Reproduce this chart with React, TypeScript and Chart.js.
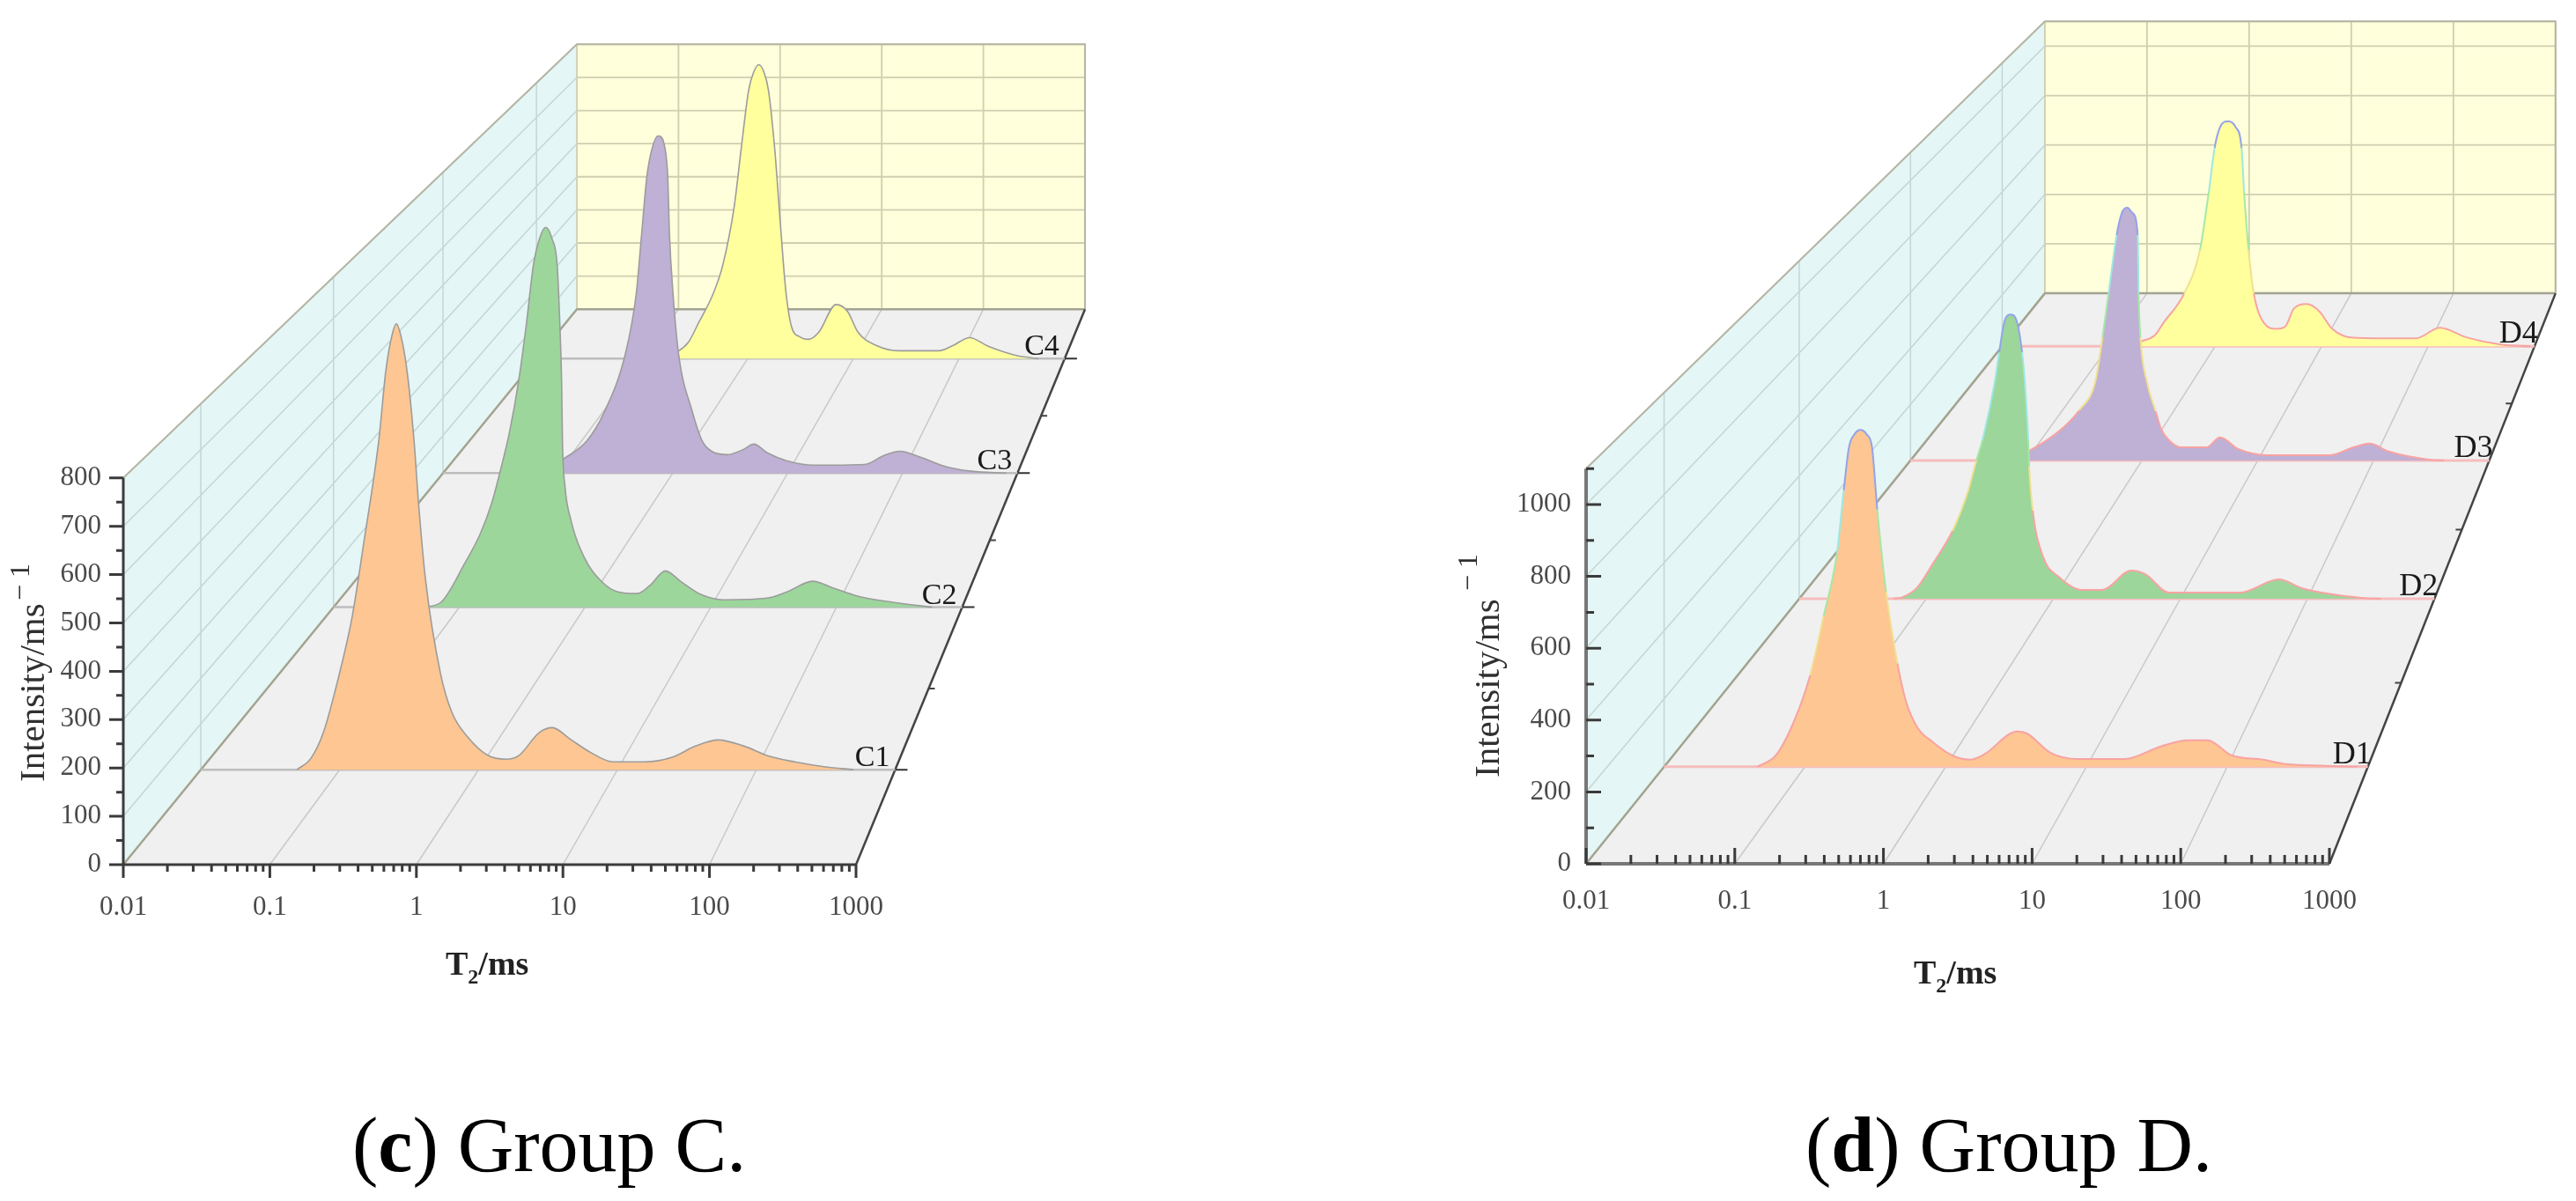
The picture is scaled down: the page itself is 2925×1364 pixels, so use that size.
import React, { useEffect, useRef } from "react";
import { Chart, registerables } from "chart.js";

Chart.register(...registerables);

// ---- Data: T2 (ms) and intensity for every sample ----
const c1T = [0.0492,0.0621,0.0762,0.0962,0.1234,0.149,0.191,0.215,0.238,0.256,0.275,0.305,0.343,0.369,0.415,0.532,0.643,0.837,1.17,1.57,1.95,2.73,3.4,4.56,6.38,9.3,15.8,24.8,36.8,53,81,119,189,315,500];
const c1I = [0,25,81,192,337,496,719,873,950,975,950,873,719,585,415,210,125,71,31,23,31,81,92,67,38,17,17,27,52,65,52,31,17,6,0];
const c2T = [0.0518,0.0715,0.11,0.148,0.182,0.214,0.251,0.296,0.342,0.389,0.435,0.487,0.546,0.601,0.631,0.652,0.662,0.695,0.766,0.99,1.37,1.83,2.61,3.27,4.37,5.74,8.32,12.6,27.9,40.4,64.6,95,147,280,578];
const c2I = [0,12,105,180,254,335,424,546,686,829,893,920,893,829,686,546,403,290,216,120,61,37,33,52,88,63,31,18,22,37,63,46,27,12,0];
const c3T = [0.0558,0.0794,0.111,0.179,0.254,0.388,0.48,0.533,0.593,0.658,0.745,0.857,0.904,0.937,1.005,1.12,1.48,1.8,2.18,3.0,4.12,5.09,6.64,9.77,16.9,46.9,69,95,143,246,396,802];
const c3I = [0,9,37,86,163,319,476,629,786,862,897,862,786,629,476,319,163,86,58,49,63,77,54,33,21,23,47,58,42,16,5,0];
const c4T = [0.138,0.223,0.275,0.34,0.47,0.581,0.745,0.867,1.02,1.135,1.27,1.43,1.57,1.8,1.98,2.18,2.31,2.59,3.13,3.79,4.69,6.87,8.81,11.1,16.6,26.8,64.6,87.7,126,189,342,562];
const c4I = [0,23,48,102,188,272,442,609,779,830,853,830,779,609,442,272,188,94,63,56,76,157,137,76,38,23,23,38,61,36,10,0];

const d1T = [0.046,0.0624,0.0832,0.109,0.136,0.169,0.189,0.206,0.225,0.248,0.275,0.3,0.327,0.378,0.455,0.526,0.634,0.81,1.11,1.48,1.87,3.23,3.78,5.58,8.73,18.7,33.8,52.9,72.6,107,180,262,501,841];
const d1I = [0,34,131,269,443,627,813,940,977,990,977,940,756,513,303,189,114,73,34,21,36,104,98,41,23,23,60,78,78,34,21,8,3,0];
const d2T = [0.0552,0.0658,0.085,0.113,0.161,0.214,0.248,0.277,0.347,0.375,0.413,0.461,0.516,0.568,0.596,0.635,0.646,0.689,0.834,1.1,1.68,2.43,4.11,5.31,8.11,29.3,59.7,91,265,378];
const d2I = [0,6,37,115,221,352,450,516,708,802,903,925,903,802,708,516,430,287,135,72,29,29,92,80,20,20,63,34,3,0];
const d3T = [0.0764,0.103,0.154,0.207,0.287,0.396,0.456,0.515,0.604,0.67,0.745,0.828,0.919,0.935,0.969,1.1,1.31,1.46,1.71,2.17,3.61,4.73,6.78,12.1,42.3,67.3,92.3,137,299,409];
const d3I = [0,31,75,116,179,283,440,597,805,884,903,884,805,597,440,283,176,113,72,47,47,82,41,19,19,47,60,31,3,0];
const d4T = [0.148,0.205,0.273,0.324,0.512,0.721,0.873,0.99,1.12,1.33,1.55,1.77,1.87,2.06,2.31,2.9,3.79,4.58,5.5,7.24,9.46,12.6,19.7,77,129,233,481,910];
const d4I = [0,20,44,89,205,375,601,771,853,874,853,771,601,375,205,89,68,78,147,164,137,68,34,31,72,34,7,0];

const xDecades = [0.01, 0.1, 1, 10, 100, 1000];
const cYMajor = [0, 100, 200, 300, 400, 500, 600, 700, 800];
const cYMinor = [50, 150, 250, 350, 450, 550, 650, 750];
const dYMajor = [0, 200, 400, 600, 800, 1000];
const dYMinor = [100, 300, 500, 700, 900, 1100];
const cGridY = [100, 200, 300, 400, 500, 600, 700, 800];
const dGridY = [200, 400, 600, 800, 1000, 1100];

const cNames = ["C1", "C2", "C3", "C4"];
const dNames = ["D1", "D2", "D3", "D4"];
const cDepths = [0.171, 0.4635, 0.705, 0.911];
const dDepths = [0.17, 0.4645, 0.707, 0.907];
const fills = ["#FDC692", "#9CD69B", "#BFB0D5", "#FFFF9E"];

type Cfg = any;

const SERIF = "'Liberation Serif', 'Times New Roman', serif";

const panelC: Cfg = {
  left: 0, width: 1400, axisLeft: 140, axisBottom: 982, pxDec: 166.4, pxUnit: 0.549,
  shiftDec: 3.095, widthShrink: 0.3065, lift: 1149, heightShrink: 0.315, wallTop: 800,
  yMajor: cYMajor, yMinor: cYMinor, gridY: cGridY, names: cNames, depths: cDepths,
  series: [[c1T, c1I], [c2T, c2I], [c3T, c3I], [c4T, c4I]],
  rainbow: false, baseColor: "#BDBDBD", baseWidth: 2.5, axisColor: "#3c3c3c", axisWidth: 3,
  xTickDir: 1, yTickDir: -1, xTick: [15, 8], yTick: [16, 8], xPad: 30, yPad: 25,
  rightTick: 1, labelDx: -6, labelSize: 34, tickFont: 31,
  title: { x: 50, y: 888, sx: 33, sy: 682 }, xt: { x: 506, y: 1107 },
};
const panelD: Cfg = {
  left: 1400, width: 1525, axisLeft: 401, axisBottom: 981, pxDec: 168.8, pxUnit: 0.408,
  shiftDec: 3.086, widthShrink: 0.313, lift: 1588, heightShrink: 0.312, wallTop: 1100,
  yMajor: dYMajor, yMinor: dYMinor, gridY: dGridY, names: dNames, depths: dDepths,
  series: [[d1T, d1I], [d2T, d2I], [d3T, d3I], [d4T, d4I]],
  rainbow: true, baseColor: "#F7BDBD", baseWidth: 3, axisColor: "#777777", axisWidth: 4,
  xTickDir: -1, yTickDir: 1, xTick: [18, 10], yTick: [17, 9], xPad: 24, yPad: 17,
  rightTick: -1, labelDx: 4, labelSize: 36, tickFont: 31,
  title: { x: 302, y: 883, sx: 277, sy: 671 }, xt: { x: 773, y: 1117 },
};

const TOP_PAD = -40;
const RIGHT_PAD = 6;

function rainbow(f: number) {
  if (f < 0.25) return "#F8A3A3";
  if (f < 0.45) return "#F0E090";
  if (f < 0.65) return "#A5E8A5";
  if (f < 0.85) return "#9CE8E2";
  return "#94A3E8";
}

function buildConfig(p: Cfg) {
  const project = (T: number, I: number, z: number) => {
    const u = Math.log10(T / 0.01);
    const dec = z * p.shiftDec + u * (1 - z * p.widthShrink);
    return { x: 0.01 * Math.pow(10, dec), y: z * p.lift + I * (1 - z * p.heightShrink) };
  };
  const GAP = { x: NaN, y: NaN };
  const seg = (list: any[][]) => list.flatMap((pts) => [...pts, GAP]);

  const poly = (data: any[], color: string) => ({
    data, showLine: true, pointRadius: 0, borderWidth: 0, borderColor: color,
    backgroundColor: color, fill: "shape", tension: 0, clip: false,
  });
  const lines = (data: any[], color: string, width: number) => ({
    data, showLine: true, pointRadius: 0, borderWidth: width, borderColor: color,
    backgroundColor: "transparent", fill: false, tension: 0, clip: false,
    borderCapStyle: "butt",
  });

  const tMin = 0.01, tMax = 1000, top = p.wallTop;
  const ds: any[] = [];
  // walls and floor
  ds.push(poly([project(tMin, 0, 1), project(tMax, 0, 1), project(tMax, top, 1), project(tMin, top, 1)], "#FFFFDC"));
  ds.push(poly([project(tMin, 0, 0), project(tMin, 0, 1), project(tMin, top, 1), project(tMin, top, 0)], "#E4F6F5"));
  ds.push(poly([project(tMin, 0, 0), project(tMax, 0, 0), project(tMax, 0, 1), project(tMin, 0, 1)], "#F0F0F0"));
  // grid on the back wall
  ds.push(lines(seg([
    ...p.gridY.map((v: number) => [project(tMin, v, 1), project(tMax, v, 1)]),
    ...xDecades.map((t) => [project(t, 0, 1), project(t, top, 1)]),
  ]), "#CFCFB0", 1.8));
  // grid on the side wall
  ds.push(lines(seg([
    ...p.gridY.map((v: number) => [project(tMin, v, 0), project(tMin, v, 1)]),
    ...p.depths.map((z: number) => [project(tMin, 0, z), project(tMin, top, z)]),
  ]), "#C4D6D6", 1.5));
  // grid on the floor
  ds.push(lines(seg(xDecades.slice(1, 5).map((t) => [project(t, 0, 0), project(t, 0, 1)])), "#C9C9C9", 1.5));
  // edges
  ds.push(lines([project(tMin, 0, 0), project(tMin, 0, 1), project(tMax, 0, 1)], "#A3A390", 2.5));
  ds.push(lines([project(tMin, top, 0), project(tMin, top, 1), project(tMax, top, 1), project(tMax, 0, 1)], "#B5B5A5", 2));
  ds.push(lines([project(tMax, 0, 0), project(tMax, 0, 1)], "#444444", 2.5));
  // ticks of the depth axis
  const tickT = (len: number) => Math.pow(10, (p.rightTick * len) / p.pxDec);
  const mids = p.depths.slice(0, 3).map((z: number, i: number) => (z + p.depths[i + 1]) / 2);
  ds.push(lines(seg(p.depths.map((z: number) => {
    const a = project(tMax, 0, z);
    return [a, { x: a.x * tickT(14), y: a.y }];
  })), "#333333", 2));
  ds.push(lines(seg(mids.map((z: number) => {
    const a = project(tMax, 0, z);
    return [a, { x: a.x * tickT(7), y: a.y }];
  })), "#444444", 2));

  // the four spectra, back to front
  for (let i = 3; i >= 0; i--) {
    const z = p.depths[i];
    const [ts, is] = p.series[i];
    const baseY = project(tMin, 0, z).y;
    ds.push(lines([project(tMin, 0, z), project(tMax, 0, z)], p.baseColor, p.baseWidth));
    const peak = Math.max(...is);
    const span = peak * (1 - z * p.heightShrink);
    const pts = ts.map((t: number, k: number) => project(t, is[k], z));
    // filled area and outline are separate, so that the outline's colour steps leave no seams in the fill
    ds.push({
      data: pts, showLine: true, pointRadius: 0, clip: false,
      cubicInterpolationMode: "monotone",
      borderWidth: 0, borderColor: fills[i], backgroundColor: fills[i],
      fill: { value: baseY },
    });
    ds.push({
      data: pts, showLine: true, pointRadius: 0, clip: false,
      cubicInterpolationMode: "monotone",
      borderWidth: p.rainbow ? 2 : 1.6,
      borderColor: p.rainbow ? "#F8A3A3" : "#9C9C9C",
      backgroundColor: "transparent",
      fill: false,
      segment: p.rainbow
        ? { borderColor: (c: any) => rainbow(((c.p0.parsed.y + c.p1.parsed.y) / 2 - baseY) / span) }
        : undefined,
    });
  }
  // the two front axes
  ds.push(lines([project(tMin, 0, 0), project(tMax, 0, 0)], p.axisColor, p.axisWidth));
  const yEnd = Math.max(...p.yMajor, ...p.yMinor);
  ds.push(lines([project(tMin, 0, 0), project(tMin, yEnd, 0)], p.axisColor, p.axisWidth));
  ds.forEach((d, i) => { d.order = ds.length - i; });

  const H = 1364;

  const xTicks: any[] = [];
  xDecades.forEach((t, i) => {
    xTicks.push({ value: t, major: true });
    if (i < 5) for (let m = 2; m <= 9; m++) xTicks.push({ value: t * m, major: false });
  });
  const yTicks = [
    ...p.yMajor.map((v: number) => ({ value: v, major: true })),
    ...p.yMinor.map((v: number) => ({ value: v, major: false })),
  ].sort((a, b) => a.value - b.value);

  const tickPlugin = {
    id: "tickMarks",
    // once the plot area is final, its top and right values follow from the axis unit sizes
    afterLayout(chart: any) {
      const { chartArea, scales } = chart;
      scales.y.max = (chartArea.bottom - chartArea.top) / p.pxUnit;
      scales.y.configure();
      scales.x.max = 0.01 * Math.pow(10, (chartArea.right - chartArea.left) / p.pxDec);
      scales.x.configure();
      // the back wall rises above the scale's box: keep the area fills from being clipped there
      chart.chartArea = { ...chartArea, top: 0 };
    },
    afterDatasetsDraw(chart: any) {
      const { ctx, scales } = chart;
      const xs = scales.x, ys = scales.y;
      ctx.save();
      ctx.strokeStyle = "#3a3a3a";
      ctx.lineWidth = 3;
      ctx.beginPath();
      xTicks.forEach((t) => {
        const px = xs.getPixelForValue(t.value);
        const len = t.major ? p.xTick[0] : p.xTick[1];
        ctx.moveTo(px, ys.bottom);
        ctx.lineTo(px, ys.bottom + p.xTickDir * len);
      });
      yTicks.forEach((t) => {
        const py = ys.getPixelForValue(t.value);
        const len = t.major ? p.yTick[0] : p.yTick[1];
        ctx.moveTo(xs.left, py);
        ctx.lineTo(xs.left + p.yTickDir * len, py);
      });
      ctx.stroke();

      // series names, at the far end of each spectrum
      ctx.fillStyle = "#1a1a1a";
      ctx.font = `${p.labelSize}px ${SERIF}`;
      ctx.textAlign = "right";
      ctx.textBaseline = "alphabetic";
      p.names.forEach((n: string, i: number) => {
        const a = project(tMax, 0, p.depths[i]);
        ctx.fillText(n, xs.getPixelForValue(a.x) + p.labelDx, ys.getPixelForValue(a.y) - 4);
      });

      // axis titles
      ctx.fillStyle = "#303030";
      ctx.font = `41px ${SERIF}`;
      ctx.textAlign = "left";
      ctx.save();
      ctx.translate(p.title.x, p.title.y);
      ctx.rotate(-Math.PI / 2);
      ctx.fillText("Intensity/ms", 0, 0);
      ctx.restore();
      ctx.font = `32px ${SERIF}`;
      ctx.save();
      ctx.translate(p.title.sx, p.title.sy);
      ctx.rotate(-Math.PI / 2);
      ctx.fillText("− 1", 0, 0);
      ctx.restore();

      ctx.fillStyle = "#222222";
      ctx.font = `bold 38px ${SERIF}`;
      ctx.fillText("T", p.xt.x, p.xt.y);
      const w = ctx.measureText("T").width;
      ctx.font = `bold 24px ${SERIF}`;
      ctx.fillText("2", p.xt.x + w, p.xt.y + 10);
      const w2 = ctx.measureText("2").width;
      ctx.font = `bold 38px ${SERIF}`;
      ctx.fillText("/ms", p.xt.x + w + w2, p.xt.y);
      ctx.restore();
    },
  };

  return {
    type: "scatter",
    data: { datasets: ds },
    plugins: [tickPlugin],
    options: {
      responsive: false,
      animation: false,
      events: [],
      layout: { autoPadding: false, padding: { top: TOP_PAD, right: RIGHT_PAD, left: 0, bottom: 0 } },
      plugins: { legend: { display: false }, tooltip: { enabled: false }, title: { display: false } },
      scales: {
        x: {
          type: "logarithmic",
          min: 0.01,
          max: 1e6,
          border: { display: false },
          grid: { display: false, drawTicks: false },
          afterBuildTicks: (s: any) => { s.ticks = xTicks.map((t) => ({ ...t })); },
          afterFit: (s: any) => { s.height = H - p.axisBottom; },
          ticks: {
            autoSkip: false, maxRotation: 0, padding: p.xPad, color: "#4a4a4a",
            font: { family: SERIF, size: p.tickFont },
            callback: (v: number) => (xDecades.includes(v) ? String(v) : ""),
          },
        },
        y: {
          type: "linear",
          min: 0,
          max: 3000,
          bounds: "data",
          border: { display: false },
          grid: { display: false, drawTicks: false },
          afterBuildTicks: (s: any) => { s.ticks = yTicks.map((t) => ({ ...t })); },
          afterFit: (s: any) => { s.width = p.axisLeft; },
          ticks: {
            autoSkip: false, padding: p.yPad, color: "#4a4a4a",
            font: { family: SERIF, size: p.tickFont },
            callback: (v: number) => (p.yMajor.includes(v) ? String(v) : ""),
          },
        },
      },
    },
  };
}

function Panel({ cfg }: { cfg: Cfg }) {
  const ref = useRef<HTMLCanvasElement | null>(null);
  useEffect(() => {
    const chart = new Chart(ref.current as any, buildConfig(cfg) as any);
    return () => chart.destroy();
  }, [cfg]);
  return (
    <canvas
      ref={ref}
      width={cfg.width}
      height={1364}
      style={{ position: "absolute", left: cfg.left, top: 0, width: cfg.width, height: 1364, display: "block" }}
    />
  );
}

function Caption({ left, letter, name }: { left: number; letter: string; name: string }) {
  return (
    <div
      style={{
        position: "absolute", left, top: 1257, fontFamily: SERIF, fontSize: 88, lineHeight: 1,
        color: "#000", whiteSpace: "nowrap",
      }}
    >
      (<b>{letter}</b>) {name}
    </div>
  );
}

export default function App() {
  return (
    <div style={{ position: "absolute", left: 0, top: 0, width: 2925, height: 1364, overflow: "hidden", background: "#fff" }}>
      <Panel cfg={panelC} />
      <Panel cfg={panelD} />
      <Caption left={400} letter="c" name="Group C." />
      <Caption left={2050} letter="d" name="Group D." />
    </div>
  );
}
